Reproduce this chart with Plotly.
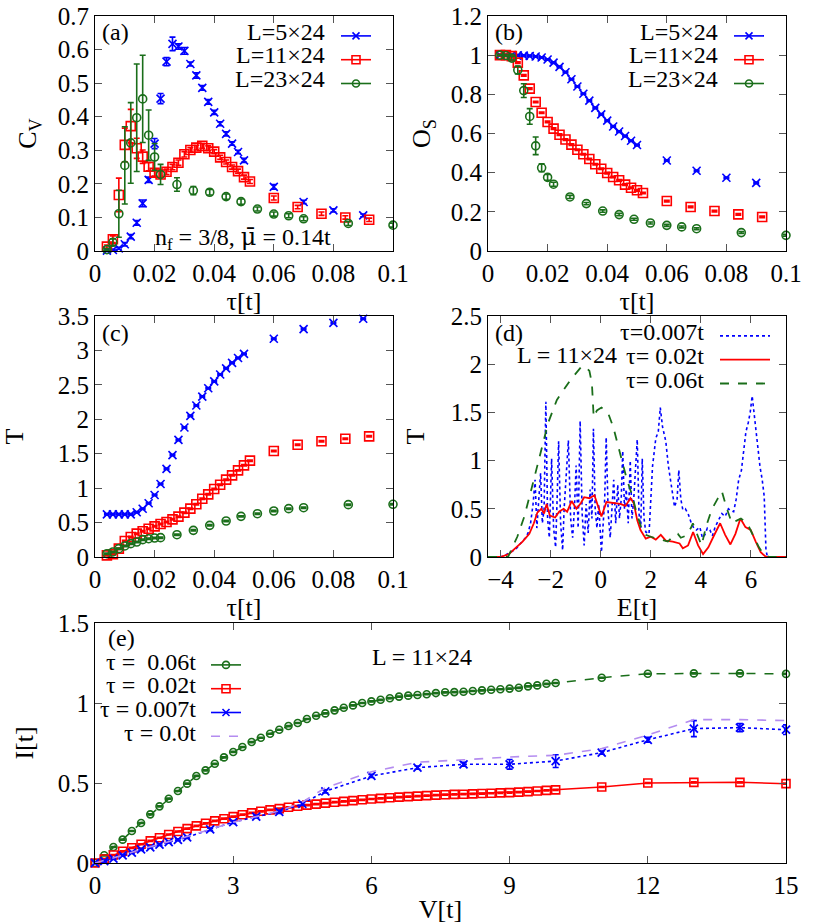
import plotly.graph_objects as go

W, H = 830, 924
FONT = "Liberation Serif, Times New Roman, serif"
BLUE = "#0000ff"
RED = "#ff0000"
GREEN = "#1a6e1a"
PURPLE = "#b48cf0"

# ---------------- panel (a),(b),(c) data ----------------
tau_blue = [0.004, 0.006, 0.008, 0.010, 0.012, 0.014, 0.016, 0.018, 0.020, 0.022, 0.024, 0.026,
            0.028, 0.030, 0.032, 0.034, 0.036, 0.038, 0.040, 0.042, 0.044, 0.046, 0.048, 0.050,
            0.06, 0.07, 0.08, 0.09]
tau_red = [0.004, 0.006, 0.008, 0.010, 0.012, 0.014, 0.016, 0.018, 0.020, 0.022, 0.024, 0.026,
           0.028, 0.030, 0.032, 0.034, 0.036, 0.038, 0.040, 0.042, 0.044, 0.046, 0.048, 0.050,
           0.052, 0.06, 0.068, 0.076, 0.084, 0.092]
tau_green = [0.004, 0.006, 0.008, 0.010, 0.012, 0.014, 0.016, 0.018, 0.020, 0.022,
             0.0275, 0.033, 0.0385, 0.044, 0.049, 0.0545, 0.06, 0.065, 0.07, 0.085, 0.1]

cv_blue = [0.001, 0.003, 0.008, 0.020, 0.043, 0.084, 0.142, 0.212, 0.32, 0.454, 0.564, 0.617,
           0.609, 0.596, 0.557, 0.523, 0.486, 0.444, 0.413, 0.379, 0.349, 0.320, 0.295, 0.270,
           0.191, 0.146, 0.121, 0.106]
cv_blue_err = [0.002, 0.002, 0.003, 0.005, 0.006, 0.007, 0.01, 0.008, 0.015, 0.015, 0.012, 0.02,
               0.008, 0.01, 0.006, 0.008, 0.007, 0.007, 0.006, 0.006, 0.006, 0.005, 0.005, 0.006,
               0.007, 0.005, 0.005, 0.004]
cv_red = [0.013, 0.035, 0.167, 0.316, 0.372, 0.306, 0.281, 0.251, 0.233, 0.228, 0.236, 0.25,
          0.263, 0.288, 0.301, 0.308, 0.313, 0.306, 0.296, 0.279, 0.265, 0.25, 0.238, 0.22, 0.207,
          0.158, 0.131, 0.111, 0.1, 0.093]
cv_red_err = [0.005, 0.01, 0.05, 0.05, 0.05, 0.03, 0.02, 0.012, 0.01, 0.01, 0.008, 0.008,
              0.008, 0.008, 0.007, 0.007, 0.007, 0.007, 0.006, 0.006, 0.006, 0.006, 0.006, 0.006, 0.006,
              0.006, 0.005, 0.005, 0.005, 0.005]
cv_green = [0.004, 0.026, 0.111, 0.255, 0.322, 0.397, 0.453, 0.345, 0.28, 0.228,
            0.198, 0.18, 0.175, 0.162, 0.147, 0.125, 0.11, 0.105, 0.096, 0.082, 0.077]
cv_green_err = [0.003, 0.01, 0.07, 0.115, 0.12, 0.16, 0.13, 0.075, 0.04, 0.03,
                0.02, 0.012, 0.008, 0.008, 0.008, 0.006, 0.006, 0.006, 0.006, 0.006, 0.006]

os_blue = [1.0, 1.0, 1.0, 0.999, 0.998, 0.996, 0.993, 0.988, 0.978, 0.962, 0.94, 0.913,
           0.877, 0.84, 0.803, 0.768, 0.731, 0.698, 0.666, 0.636, 0.61, 0.587, 0.563, 0.541,
           0.462, 0.41, 0.374, 0.348]
os_red = [1.0, 1.0, 0.995, 0.962, 0.897, 0.829, 0.761, 0.706, 0.659, 0.625, 0.594, 0.569,
          0.543, 0.517, 0.494, 0.47, 0.443, 0.42, 0.398, 0.378, 0.361, 0.339, 0.323, 0.31, 0.296,
          0.255, 0.225, 0.204, 0.187, 0.174]
os_green = [1.0, 0.998, 0.985, 0.924, 0.819, 0.687, 0.537, 0.425, 0.376, 0.341,
            0.276, 0.242, 0.204, 0.186, 0.162, 0.143, 0.131, 0.123, 0.114, 0.094, 0.08]
os_green_err = [0.003, 0.005, 0.01, 0.02, 0.035, 0.04, 0.045, 0.02, 0.015, 0.01,
                0.008, 0.006, 0.006, 0.006, 0.005, 0.005, 0.005, 0.005, 0.005, 0.005, 0.005]

t_blue = [0.62, 0.62, 0.62, 0.62, 0.62, 0.65, 0.70, 0.78, 0.90, 1.06, 1.28, 1.48,
          1.70, 1.88, 2.05, 2.20, 2.33, 2.45, 2.55, 2.65, 2.74, 2.82, 2.89, 2.95,
          3.17, 3.31, 3.40, 3.46]
t_red = [0.024, 0.039, 0.121, 0.232, 0.29, 0.339, 0.373, 0.411, 0.445, 0.479, 0.508, 0.547,
         0.586, 0.644, 0.702, 0.765, 0.847, 0.91, 0.987, 1.05, 1.123, 1.186, 1.258, 1.331, 1.399,
         1.539, 1.631, 1.68, 1.718, 1.752]
t_green = [0.048, 0.073, 0.121, 0.16, 0.194, 0.218, 0.252, 0.266, 0.276, 0.281,
           0.324, 0.387, 0.46, 0.523, 0.59, 0.629, 0.668, 0.702, 0.716, 0.76, 0.765]

# ---------------- panel (d) data ----------------
e_blue = [-4.5, -4.0, -3.8, -3.6, -3.4, -3.2, -3.0, -2.9, -2.8, -2.7, -2.62, -2.55, -2.48, -2.4,
          -2.33, -2.26, -2.19, -2.12, -2.05, -1.96, -1.88, -1.8, -1.74, -1.68, -1.6, -1.52, -1.46,
          -1.38, -1.29, -1.2, -1.12, -1.05, -0.98, -0.9, -0.82, -0.74, -0.66, -0.58, -0.5, -0.42,
          -0.35, -0.29, -0.22, -0.15, -0.08, 0.03, 0.1, 0.16, 0.22, 0.3, 0.38, 0.45, 0.52, 0.6,
          0.68, 0.75, 0.82, 0.88, 0.95, 1.02, 1.1, 1.18, 1.25, 1.32, 1.4, 1.46, 1.53, 1.6, 1.66,
          1.73, 1.8, 1.93, 2.07, 2.2, 2.3, 2.38, 2.47, 2.6, 2.7, 2.81, 2.95, 3.05, 3.12, 3.2, 3.28,
          3.38, 3.49, 3.62, 3.72, 3.82, 3.96, 4.06, 4.16, 4.26, 4.36, 4.46, 4.57, 4.7, 4.84, 4.97,
          5.1, 5.2, 5.31, 5.41, 5.51, 5.62, 5.72, 5.8, 5.89, 5.97, 6.05, 6.14, 6.22, 6.29, 6.36,
          6.45, 6.53, 6.6, 6.66, 7.0, 7.4]
tr_blue = [0.0, 0.0, 0.02, 0.05, 0.08, 0.14, 0.2, 0.25, 0.35, 0.55, 0.8, 0.3, 0.6, 0.87,
           0.35, 0.5, 1.61, 0.4, 0.2, 1.02, 0.3, 0.1, 0.6, 1.2, 0.35, 0.07, 0.5,
           0.9, 1.21, 0.4, 0.2, 0.5, 0.95, 0.3, 1.41, 0.45, 0.12, 0.55, 0.25, 0.7,
           0.4, 1.33, 0.5, 0.3, 0.55, 0.05, 0.4, 0.6, 1.24, 0.45, 0.2, 0.5, 0.8, 0.35,
           0.75, 0.4, 0.6, 1.1, 0.5, 0.7, 0.35, 1.0, 0.4, 0.6, 0.9, 1.22, 0.45, 0.3, 1.02,
           0.4, 0.26, 0.24, 0.94, 1.23, 1.3, 1.55, 1.35, 1.2, 0.95, 0.76, 0.52, 0.6, 0.9, 0.6, 0.49,
           0.5, 0.45, 0.35, 0.3, 0.28, 0.31, 0.2, 0.23, 0.3, 0.28, 0.22, 0.31, 0.38, 0.45, 0.42,
           0.5, 0.48, 0.47, 0.6, 0.8, 0.9, 1.15, 1.3, 1.39, 1.5, 1.67, 1.45, 1.25, 1.1, 0.94,
           0.8, 0.63, 0.07, 0.0, 0.0, 0.0]

e_red = [-4.5, -4.0, -3.67, -3.4, -3.12, -2.85, -2.67, -2.53, -2.37, -2.26, -2.16, -2.03, -1.82,
         -1.66, -1.48, -1.34, -1.16, -0.97, -0.79, -0.66, -0.45, -0.25, -0.11, 0.03, 0.23, 0.51,
         0.78, 0.99, 1.19, 1.32, 1.46, 1.59, 1.8, 2.0, 2.2, 2.4, 2.6, 2.88, 3.15, 3.28, 3.49,
         3.69, 3.89, 4.09, 4.3, 4.5, 4.77, 4.97, 5.18, 5.38, 5.58, 5.78, 5.99, 6.19, 6.39, 6.6, 7.4]
tr_red = [0.0, 0.0, 0.03, 0.09, 0.16, 0.24, 0.35, 0.46, 0.5, 0.45, 0.55, 0.43, 0.41,
          0.47, 0.5, 0.47, 0.58, 0.5, 0.56, 0.62, 0.61, 0.64, 0.54, 0.42, 0.57, 0.56,
          0.55, 0.53, 0.61, 0.56, 0.38, 0.28, 0.19, 0.21, 0.18, 0.23, 0.17, 0.16, 0.14, 0.09, 0.12,
          0.26, 0.12, 0.03, 0.1, 0.21, 0.35, 0.23, 0.13, 0.24, 0.4, 0.31, 0.28, 0.16, 0.05, 0.0, 0.0]

e_green = [-4.5, -3.7, -3.33, -3.05, -2.78, -2.5, -2.3, -2.1, -1.75, -1.2, -0.78, -0.64, -0.45,
           -0.35, -0.28, -0.15, 0.03, 0.3, 0.5, 0.71, 0.92, 1.05, 1.26, 1.42, 1.6, 1.8, 2.0, 2.4,
           2.68, 2.95, 3.08, 3.2, 3.4, 3.6, 3.68, 3.89, 4.03, 4.2, 4.43, 4.64, 4.84, 5.04, 5.24,
           5.45, 5.6, 5.85, 6.05, 6.32, 6.53, 6.73, 7.4]
tr_green = [0.0, 0.0, 0.21, 0.42, 0.69, 0.97, 1.2, 1.39, 1.63, 1.84, 1.97, 1.98, 1.93,
            1.8, 1.45, 1.52, 1.55, 1.49, 1.35, 1.15, 0.94, 0.8, 0.64, 0.47, 0.32, 0.23, 0.21, 0.18,
            0.16, 0.23, 0.24, 0.2, 0.22, 0.3, 0.35, 0.21, 0.12, 0.31, 0.49, 0.59, 0.68, 0.5, 0.35,
            0.38, 0.4, 0.35, 0.24, 0.1, 0.02, 0.0, 0.0]

# ---------------- panel (e) data ----------------
v_dense = [0.0, 0.2, 0.4, 0.6, 0.8, 1.0, 1.2, 1.4, 1.6, 1.8, 2.0, 2.2, 2.4, 2.6, 2.8, 3.0, 3.2,
           3.4, 3.6, 3.8, 4.0, 4.2, 4.4, 4.6, 4.8, 5.0, 5.2, 5.4, 5.6, 5.8, 6.0, 6.2, 6.4, 6.6,
           6.8, 7.0, 7.2, 7.4, 7.6, 7.8, 8.0, 8.2, 8.4, 8.6, 8.8, 9.0, 9.2, 9.4, 9.6, 9.8, 10.0,
           11.0, 12.0, 13.0, 14.0, 15.0]
i_green = [0.0, 0.048, 0.1, 0.146, 0.2, 0.25, 0.304, 0.354, 0.402, 0.45, 0.496, 0.544, 0.579,
           0.62, 0.66, 0.694, 0.725, 0.756, 0.783, 0.808, 0.833, 0.856, 0.875, 0.9, 0.92, 0.935,
           0.954, 0.97, 0.985, 1.0, 1.01, 1.02, 1.03, 1.04, 1.046, 1.05, 1.055, 1.062, 1.067,
           1.068, 1.07, 1.075, 1.079, 1.083, 1.086, 1.09, 1.095, 1.104, 1.11, 1.12, 1.125,
           1.158, 1.183, 1.185, 1.185, 1.182]
i_red = [0.0, 0.025, 0.05, 0.073, 0.095, 0.117, 0.138, 0.158, 0.178, 0.197, 0.215, 0.232, 0.248,
         0.263, 0.277, 0.29, 0.302, 0.313, 0.323, 0.332, 0.34, 0.348, 0.355, 0.362, 0.368, 0.374,
         0.38, 0.385, 0.39, 0.395, 0.4, 0.404, 0.408, 0.412, 0.415, 0.418, 0.421, 0.424, 0.427,
         0.429, 0.43, 0.432, 0.434, 0.436, 0.438, 0.44, 0.443, 0.446, 0.45, 0.454, 0.457,
         0.475, 0.5, 0.504, 0.504, 0.496]
v_blue = [0.0, 0.2, 0.4, 0.6, 0.8, 1.0, 1.2, 1.4, 1.6, 1.8, 2.0, 2.5, 3.0, 3.5, 4.0, 4.5, 5.0,
          6.0, 7.0, 8.0, 9.0, 10.0, 11.0, 12.0, 13.0, 14.0, 15.0]
i_blue = [0.0, 0.012, 0.027, 0.048, 0.065, 0.085, 0.098, 0.115, 0.13, 0.145, 0.16, 0.21, 0.255,
          0.29, 0.32, 0.37, 0.448, 0.544, 0.596, 0.617, 0.617, 0.637, 0.69, 0.77, 0.84, 0.846, 0.833]
i_blue_err = [0.005, 0.005, 0.005, 0.006, 0.006, 0.006, 0.006, 0.006, 0.006, 0.006, 0.006, 0.008,
              0.008, 0.008, 0.01, 0.01, 0.01, 0.01, 0.01, 0.012, 0.03, 0.04, 0.01, 0.015, 0.05,
              0.025, 0.03]
v_zero = [0.0, 0.5, 1.0, 1.5, 2.0, 2.5, 3.0, 3.5, 4.0, 4.5, 5.0, 6.0, 7.0, 8.0, 9.0, 10.0,
          11.0, 12.0, 13.0, 14.0, 15.0]
i_zero = [0.0, 0.04, 0.085, 0.125, 0.165, 0.21, 0.255, 0.29, 0.325, 0.38, 0.47, 0.57, 0.63,
          0.645, 0.6625, 0.673, 0.715, 0.8, 0.896, 0.896, 0.89]

# legend labels (drawn as right-aligned text, gnuplot style)
labels_L = ["L=5×24", "L=11×24", "L=23×24"]
labels_d = ["τ=0.007t", "τ=\u00a00.02t", "τ=\u00a00.06t"]
labels_e = ["τ =\u00a0\u00a00.06t", "τ =\u00a0\u00a00.02t", "τ = 0.007t", "τ = 0.0t"]

fig = go.Figure()


def pts(x, y, err, color, symbol, size, xa, ya):
    fig.add_trace(go.Scatter(
        x=x, y=y, mode="markers", xaxis=xa, yaxis=ya, showlegend=False, cliponaxis=False,
        marker=dict(symbol=symbol, size=size, color=color, line=dict(width=1.6, color=color)),
        error_y=dict(type="data", array=err, visible=True, color=color, thickness=1.6, width=3),
    ))


def proxy(legend, color, symbol=None, size=7, dash="solid", xa="x", ya="y"):
    mode = "lines+markers" if symbol else "lines"
    m = dict(symbol=symbol, size=size, color=color, line=dict(width=1.6, color=color)) if symbol else None
    fig.add_trace(go.Scatter(x=[None], y=[None], mode=mode, name="", legend=legend,
                             xaxis=xa, yaxis=ya, line=dict(color=color, width=1.6, dash=dash),
                             marker=m, hoverinfo="skip"))


small_b = [0.004] * len(tau_blue)
small_r = [0.004] * len(tau_red)

# (a)
pts(tau_blue, cv_blue, cv_blue_err, BLUE, "x-thin-open", 8, "x", "y")
pts(tau_red, cv_red, cv_red_err, RED, "square-open", 9, "x", "y")
pts(tau_green, cv_green, cv_green_err, GREEN, "circle-open", 8, "x", "y")
proxy("legend", BLUE, "x-thin-open", 7)
proxy("legend", RED, "square-open", 8)
proxy("legend", GREEN, "circle-open", 7)
# (b)
pts(tau_blue, os_blue, small_b, BLUE, "x-thin-open", 8, "x2", "y2")
pts(tau_red, os_red, small_r, RED, "square-open", 9, "x2", "y2")
pts(tau_green, os_green, os_green_err, GREEN, "circle-open", 8, "x2", "y2")
proxy("legend2", BLUE, "x-thin-open", 7, xa="x2", ya="y2")
proxy("legend2", RED, "square-open", 8, xa="x2", ya="y2")
proxy("legend2", GREEN, "circle-open", 7, xa="x2", ya="y2")
# (c)
pts(tau_blue, t_blue, [0.01] * len(tau_blue), BLUE, "x-thin-open", 8, "x3", "y3")
pts(tau_red, t_red, [0.01] * len(tau_red), RED, "square-open", 9, "x3", "y3")
pts(tau_green, t_green, [0.01] * len(tau_green), GREEN, "circle-open", 8, "x3", "y3")

# (d)
fig.add_trace(go.Scatter(x=e_blue, y=tr_blue, mode="lines", name="", xaxis="x4", yaxis="y4",
                         legend="legend3", line=dict(color=BLUE, width=1.6, dash="dot")))
fig.add_trace(go.Scatter(x=e_red, y=tr_red, mode="lines", name="", xaxis="x4", yaxis="y4",
                         legend="legend3", line=dict(color=RED, width=1.8)))
fig.add_trace(go.Scatter(x=e_green, y=tr_green, mode="lines", name="", xaxis="x4", yaxis="y4",
                         legend="legend3", line=dict(color=GREEN, width=1.8, dash="dash")))

# (e)
fig.add_trace(go.Scatter(x=v_dense, y=i_green, mode="lines+markers", xaxis="x5", yaxis="y5",
                         showlegend=False, cliponaxis=False,
                         line=dict(color=GREEN, width=1.5, dash="dash"),
                         marker=dict(symbol="circle-open", size=7, color=GREEN, line=dict(width=1.6, color=GREEN)),
                         error_y=dict(type="data", array=[0.004] * len(v_dense), color=GREEN, thickness=1.4, width=3)))
fig.add_trace(go.Scatter(x=v_dense, y=i_red, mode="lines+markers", xaxis="x5", yaxis="y5",
                         showlegend=False, cliponaxis=False,
                         line=dict(color=RED, width=1.5),
                         marker=dict(symbol="square-open", size=8, color=RED, line=dict(width=1.6, color=RED)),
                         error_y=dict(type="data", array=[0.004] * len(v_dense), color=RED, thickness=1.4, width=3)))
fig.add_trace(go.Scatter(x=v_blue, y=i_blue, mode="lines+markers", xaxis="x5", yaxis="y5",
                         showlegend=False, cliponaxis=False,
                         line=dict(color=BLUE, width=1.6, dash="dot"),
                         marker=dict(symbol="x-thin-open", size=8, color=BLUE, line=dict(width=1.8, color=BLUE)),
                         error_y=dict(type="data", array=i_blue_err, color=BLUE, thickness=1.6, width=3)))
fig.add_trace(go.Scatter(x=v_zero, y=i_zero, mode="lines", xaxis="x5", yaxis="y5",
                         showlegend=False, line=dict(color=PURPLE, width=1.6, dash="dash")))
proxy("legend4", GREEN, "circle-open", 7, xa="x5", ya="y5")
proxy("legend4", RED, "square-open", 8, xa="x5", ya="y5")
proxy("legend4", BLUE, "x-thin-open", 7, xa="x5", ya="y5")
proxy("legend4", PURPLE, None, dash="dash", xa="x5", ya="y5")


def px_x(p):
    return p / W


def px_y(p):
    return 1 - p / H


TICKF = dict(family=FONT, size=25, color="black")
TITLEF = dict(family=FONT, size=26, color="black")


def ax(domain, rng, dtick, title, anchor, standoff=2, tick0=0):
    return dict(domain=domain, range=rng, dtick=dtick, tick0=tick0, anchor=anchor,
                showgrid=False, zeroline=False, showline=True, linecolor="black", linewidth=1,
                mirror="ticks", ticks="inside", ticklen=7, tickcolor="#555", tickwidth=1,
                tickfont=TICKF, title=dict(text=title, font=TITLEF, standoff=standoff))


xa_l = [px_x(95), px_x(393)]
xa_r = [px_x(488), px_x(786)]
ya_top = [px_y(251), px_y(16)]
ya_mid = [px_y(557), px_y(316)]
ya_bot = [px_y(863), px_y(623)]

fig.update_layout(
    autosize=True, margin=dict(l=0, r=0, t=0, b=0, autoexpand=False),
    paper_bgcolor="white", plot_bgcolor="white",
    font=dict(family=FONT, size=24, color="black"),
    xaxis=ax(xa_l, [0, 0.1], 0.02, "τ[t]", "y"),
    yaxis=ax(ya_top, [0, 0.7], 0.1, "C<sub>V</sub>", "x", 13),
    xaxis2=ax(xa_r, [0, 0.1], 0.02, "τ[t]", "y2"),
    yaxis2=ax(ya_top, [0, 1.2], 0.2, "O<sub>S</sub>", "x2", 12),
    xaxis3=ax(xa_l, [0, 0.1], 0.02, "τ[t]", "y3"),
    yaxis3=ax(ya_mid, [0, 3.5], 0.5, "T", "x3", 26),
    xaxis4=ax(xa_r, [-4.5, 7.4], 2, "E[t]", "y4", 2, -4),
    yaxis4=ax(ya_mid, [0, 2.5], 0.5, "T", "x4", 18),
    xaxis5=ax([px_x(95), px_x(786)], [0, 15], 3, "V[t]", "y5"),
    yaxis5=ax(ya_bot, [0, 1.5], 0.5, "I[t]", "x5", 16),
)

LEG = dict(bgcolor="rgba(0,0,0,0)", font=dict(family=FONT, size=16, color="black"),
           itemwidth=30, tracegroupgap=0, yanchor="top", xanchor="left")
fig.update_layout(
    legend=dict(LEG, x=px_x(336), y=px_y(19)),
    legend2=dict(LEG, x=px_x(729), y=px_y(19)),
    legend3=dict(LEG, x=px_x(715), y=px_y(319), itemwidth=50),
    legend4=dict(LEG, x=px_x(206), y=px_y(648)),
)

MU_BAR = "<span style='font-family:DejaVu Serif'>μ\u0304</span>"
ann = [
    ("(a)", 100, 32, "left"), ("(b)", 493, 32, "left"), ("(c)", 100, 333, "left"),
    ("(d)", 493, 333, "left"), ("(e)", 106, 638, "left"),
    ("n<sub>f</sub> = 3/8, " + MU_BAR + " = 0.14t", 243, 238, "center"),
    ("L = 11×24", 567, 355, "center"), ("L = 11×24", 422, 657, "center"),
]
for txt, y in zip(labels_L, [32, 55, 79]):
    ann.append((txt, 327, y, "right"))
for txt, y in zip(labels_L, [32, 55, 79]):
    ann.append((txt, 720, y, "right"))
for txt, y in zip(labels_d, [332, 356, 380]):
    ann.append((txt, 706, y, "right"))
for txt, y in zip(labels_e, [662, 685, 709, 733]):
    ann.append((txt, 198, y, "right"))

for txt, x, y, anc in ann:
    fig.add_annotation(text=txt, x=px_x(x), y=px_y(y), xref="paper", yref="paper",
                       xanchor=anc, yanchor="middle", showarrow=False,
                       font=dict(family=FONT, size=24, color="black"))

post = ("var d=document.getElementById('{plot_id}');"
        "d.style.position='fixed';d.style.left='0px';d.style.top='0px';"
        "document.documentElement.style.margin='0';document.body.style.margin='0';"
        "document.documentElement.style.overflow='hidden';document.body.style.overflow='hidden';"
        "Plotly.Plots.resize(d);")
fig.write_html("out.html", config={"displayModeBar": False, "responsive": True},
               default_width="100vw", default_height="100vh", post_script=post)
